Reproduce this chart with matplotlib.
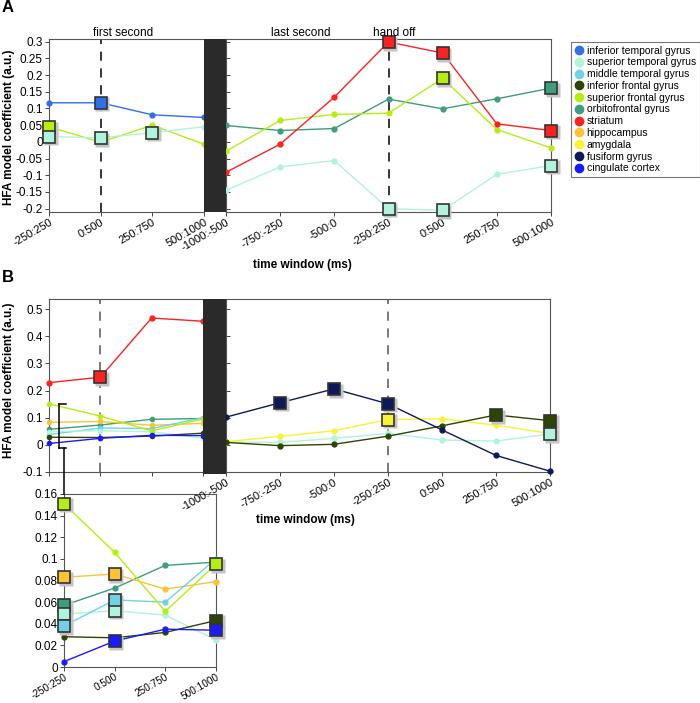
import matplotlib
matplotlib.use("Agg")
import matplotlib.pyplot as plt
from matplotlib.lines import Line2D
from matplotlib.patches import Rectangle
from matplotlib.transforms import offset_copy
import numpy as np

plt.rcParams['font.family'] = ['Liberation Sans', 'DejaVu Sans']

W, H = 700, 703

# tick labels
first_labels = ['-250:250', '0:500', '250:750', '500:1000']
last_labels = ['-1000:-500', '-750:-250', '-500:0', '-250:250', '0:500', '250:750', '500:1000']

# regions / colours (legend order)
regions = ['inferior temporal gyrus', 'superior temporal gyrus', 'middle temporal gyrus',
           'inferior frontal gyrus', 'superior frontal gyrus', 'orbitofrontal gyrus',
           'striatum', 'hippocampus', 'amygdala', 'fusiform gyrus', 'cingulate cortex']
colors = ['#2f6fe8', '#aef5dc', '#6fd3e8', '#2e4500', '#b5ef10', '#3c9e7e',
          '#ff2020', '#ffc232', '#f8f430', '#0c1a5c', '#1a1aff']

# panel A, first second
itg_A_first = [0.117, 0.117, 0.081, 0.073]
stg_A_first = [0.016, 0.012, 0.028, 0.045]
sfg_A_first = [0.045, -0.001, 0.050, -0.007]
# panel A, last second
stg_A_last = [-0.145, -0.075, -0.056, -0.200, -0.205, -0.097, -0.071]
ofg_A_last = [0.049, 0.034, 0.040, 0.128, 0.099, 0.129, 0.161]
str_A_last = [-0.091, -0.007, 0.134, 0.299, 0.266, 0.054, 0.034]
sfg_A_last = [-0.028, 0.064, 0.082, 0.086, 0.190, 0.037, -0.018]

# panel B, first second
str_B_first = [0.229, 0.249, 0.467, 0.455]
sfg_B_first = [0.151, 0.106, 0.0515, 0.095]
hip_B_first = [0.083, 0.086, 0.072, 0.079]
ofg_B_first = [0.057, 0.073, 0.094, 0.097]
mtg_B_first = [0.038, 0.062, 0.060, 0.100]
stg_B_first = [0.049, 0.052, 0.048, 0.025]
ifg_B_first = [0.028, 0.027, 0.032, 0.043]
cc_B_first = [0.005, 0.024, 0.035, 0.034]
# panel B, last second
fus_B_last = [0.102, 0.155, 0.206, 0.151, 0.055, -0.039, -0.097]
amy_B_last = [0.012, 0.031, 0.052, 0.093, 0.096, 0.072, 0.042]
stg_B_last = [0.010, 0.009, 0.024, 0.042, 0.018, 0.014, 0.040]
ifg_B_last = [0.009, -0.003, 0.002, 0.032, 0.070, 0.110, 0.089]

C = dict(zip(regions, colors))

fig = plt.figure(figsize=(7, 7.03), dpi=100)


def box(x0, y0, x1, y1):
    return [x0 / W, 1 - y1 / H, (x1 - x0) / W, (y1 - y0) / H]


def style(ax, left=True, xsize=8, xpad=1):
    for s in ax.spines.values():
        s.set_color('#555555')
        s.set_linewidth(0.8)
    ax.tick_params(axis='y', labelsize=8.5, length=3, width=0.7, color='#444444', pad=1.5)
    ax.tick_params(axis='x', labelsize=xsize, length=3, width=0.7, color='#444444', pad=xpad)
    if not left:
        ax.tick_params(axis='y', direction='in', labelleft=False, length=3)


def fmt(vals, nd):
    return ['%g' % (round(v, nd) + 0.0) if abs(v) > 1e-9 else '0' for v in vals]


def series(ax, vals, color, sq=(), ms=3.5):
    x = np.arange(len(vals))
    ax.plot(x, vals, '-o', color=color, lw=1.0, ms=ms, mec=color, clip_on=False, zorder=3)
    shadow = offset_copy(ax.transData, fig=fig, x=1.2, y=-1.2, units='points')
    for i in sq:
        ax.plot(x[i], vals[i], 's', ms=9.5, color='#c4c4c4', mec='none',
                clip_on=False, zorder=4, transform=shadow)
        ax.plot(x[i], vals[i], 's', ms=9, color=color, mec='#333333', mew=1.2,
                clip_on=False, zorder=5)


def xlabels(ax, labels):
    ax.set_xticks(np.arange(len(labels)))
    ax.set_xticklabels(labels, rotation=30, ha='right', va='top', rotation_mode='anchor')


# ---------- panel A ----------
axL = fig.add_axes(box(49, 39, 204, 212))
axR = fig.add_axes(box(226, 39, 551, 212))
yt_A = np.arange(-0.2, 0.31, 0.05)
for ax in (axL, axR):
    ax.set_ylim(-0.21, 0.308)
    ax.set_yticks(yt_A)
axL.set_xlim(0, 3)
axR.set_xlim(0, 6)
style(axL)
style(axR, left=False)
axL.spines['right'].set_visible(False)
axL.set_yticklabels(fmt(yt_A, 2))
xlabels(axL, first_labels)
xlabels(axR, last_labels)

axL.axvline(1, color='black', lw=1.1, dashes=(6, 5), zorder=2)
axR.axvline(3, color='black', lw=1.1, dashes=(6, 5), zorder=2)

series(axL, itg_A_first, C['inferior temporal gyrus'], sq=[1])
series(axL, sfg_A_first, C['superior frontal gyrus'], sq=[0])
series(axL, stg_A_first, C['superior temporal gyrus'], sq=[0, 1, 2])

series(axR, ofg_A_last, C['orbitofrontal gyrus'], sq=[6])
series(axR, stg_A_last, C['superior temporal gyrus'], sq=[3, 4, 6])
series(axR, sfg_A_last, C['superior frontal gyrus'], sq=[4])
series(axR, str_A_last, C['striatum'], sq=[3, 4, 6])

fig.patches.append(Rectangle((204 / W, 1 - 212 / H), 22 / W, 173 / H, transform=fig.transFigure,
                             facecolor='#2a2a2a', edgecolor='none', zorder=6))

fig.text(93 / W, 1 - 36 / H, 'first second', fontsize=8.5, ha='left', va='baseline')
fig.text(301 / W, 1 - 36 / H, 'last second', fontsize=8.5, ha='center', va='baseline')
fig.text(394 / W, 1 - 36 / H, 'hand off', fontsize=8.5, ha='center', va='baseline')
fig.text(302 / W, 1 - 265 / H, 'time window (ms)', fontsize=8.5, fontweight='bold',
         ha='center', va='center')
fig.text(9 / W, 1 - 127 / H, 'HFA model coefficient (a.u.)', fontsize=8.5, fontweight='bold',
         rotation=90, ha='center', va='center')
fig.text(2 / W, 1 - 7 / H, 'A', fontsize=12, fontweight='bold', ha='left', va='center')

# ---------- panel B ----------
bxL = fig.add_axes(box(49, 299, 203, 472))
bxR = fig.add_axes(box(226, 299, 550, 472))
yt_B = np.arange(-0.1, 0.51, 0.1)
for ax in (bxL, bxR):
    ax.set_ylim(-0.1, 0.537)
    ax.set_yticks(yt_B)
bxL.set_xlim(0, 3)
bxR.set_xlim(0, 6)
style(bxL)
style(bxR, left=False)
bxL.spines['right'].set_visible(False)
bxL.set_yticklabels(fmt(yt_B, 1))
bxL.set_xticks(np.arange(4))
bxL.set_xticklabels([])
xlabels(bxR, last_labels)

bxL.axvline(1, color='#555555', lw=1.1, dashes=(6, 5), zorder=2)
bxR.axvline(3, color='#555555', lw=1.1, dashes=(6, 5), zorder=2)

series(bxL, str_B_first, C['striatum'], sq=[1])
for vals, name in [(ofg_B_first, 'orbitofrontal gyrus'), (hip_B_first, 'hippocampus'),
                   (mtg_B_first, 'middle temporal gyrus'), (stg_B_first, 'superior temporal gyrus'),
                   (sfg_B_first, 'superior frontal gyrus'), (ifg_B_first, 'inferior frontal gyrus'),
                   (cc_B_first, 'cingulate cortex')]:
    series(bxL, vals, C[name], ms=3)

series(bxR, stg_B_last, C['superior temporal gyrus'], sq=[6])
series(bxR, amy_B_last, C['amygdala'], sq=[3])
series(bxR, ifg_B_last, C['inferior frontal gyrus'], sq=[5, 6])
series(bxR, fus_B_last, C['fusiform gyrus'], sq=[1, 2, 3])

fig.patches.append(Rectangle((203 / W, 1 - 474 / H), 23 / W, 175 / H, transform=fig.transFigure,
                             facecolor='#2a2a2a', edgecolor='none', zorder=6))

fig.text(305 / W, 1 - 520 / H, 'time window (ms)', fontsize=8.5, fontweight='bold',
         ha='center', va='center')
fig.text(9 / W, 1 - 380 / H, 'HFA model coefficient (a.u.)', fontsize=8.5, fontweight='bold',
         rotation=90, ha='center', va='center')
fig.text(2 / W, 1 - 278 / H, 'B', fontsize=12, fontweight='bold', ha='left', va='center')

# bracket + connector to inset
for seg in [((59, 404), (59, 448)), ((59, 404), (66, 404)), ((59, 448), (66, 448)),
            ((64, 448), (64, 494))]:
    (x0, y0), (x1, y1) = seg
    fig.add_artist(Line2D([x0 / W, x1 / W], [1 - y0 / H, 1 - y1 / H], color='black', lw=1.1))

# ---------- inset ----------
ins = fig.add_axes(box(64, 494, 216, 667))
ins.set_zorder(0.5)
bxR.set_zorder(1)
ins.set_ylim(0, 0.16)
ins.set_xlim(0, 3)
style(ins, xsize=7.2, xpad=0.5)
yt_i = np.arange(0, 0.161, 0.02)
ins.set_yticks(yt_i)
ins.set_yticklabels(fmt(yt_i, 2))
xlabels(ins, first_labels)
series(ins, ofg_B_first, C['orbitofrontal gyrus'], sq=[0])
series(ins, hip_B_first, C['hippocampus'], sq=[0, 1])
series(ins, stg_B_first, C['superior temporal gyrus'], sq=[0, 1])
series(ins, mtg_B_first, C['middle temporal gyrus'], sq=[0, 1])
series(ins, ifg_B_first, C['inferior frontal gyrus'], sq=[3])
series(ins, cc_B_first, C['cingulate cortex'], sq=[1, 3])
series(ins, sfg_B_first, C['superior frontal gyrus'], sq=[0, 3])

# ---------- legend ----------
handles = [Line2D([], [], marker='o', ls='none', color=c, ms=6) for c in colors]
leg = fig.legend(handles, regions, loc='upper left', bbox_to_anchor=(571 / W, 1 - 42 / H),
                 fontsize=7.5, frameon=True, fancybox=False, borderaxespad=0,
                 handletextpad=0.35, handlelength=0.8, labelspacing=0.17, borderpad=0.35)
leg.get_frame().set_edgecolor('#555555')
leg.get_frame().set_linewidth(0.8)

fig.savefig('out.png', dpi=100)
